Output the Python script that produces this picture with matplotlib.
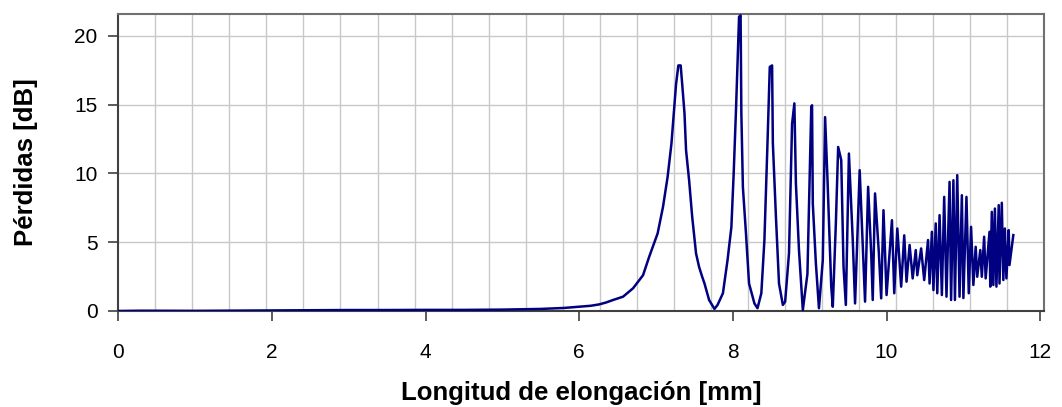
import numpy as np
import matplotlib
matplotlib.use("Agg")
import matplotlib.pyplot as plt
from matplotlib.ticker import FixedLocator

# elongation [mm] and losses [dB]
x_mm = [0.00, 0.30, 1.00, 1.70, 2.00, 2.50, 3.00, 3.50, 4.00, 4.50, 5.00, 5.50, 5.80,
        6.00, 6.15, 6.26, 6.35, 6.44, 6.57, 6.70, 6.83, 6.91, 7.02, 7.09, 7.15, 7.20, 7.23, 7.26,
        7.29, 7.32, 7.34, 7.37, 7.39, 7.43, 7.47, 7.52, 7.56, 7.60, 7.63, 7.69, 7.76,
        7.80, 7.87, 7.93, 7.98, 8.01, 8.04, 8.08, 8.10, 8.11, 8.13, 8.17, 8.21, 8.28,
        8.32, 8.37, 8.41, 8.45, 8.48, 8.51, 8.52, 8.56, 8.60, 8.65, 8.68, 8.73, 8.77,
        8.80, 8.82, 8.86, 8.91, 8.97, 9.02, 9.03, 9.04, 9.08, 9.12, 9.17, 9.20, 9.23,
        9.28, 9.30, 9.34, 9.37, 9.41, 9.44, 9.47, 9.51, 9.56, 9.59, 9.65, 9.69, 9.72,
        9.76, 9.80, 9.82, 9.85, 9.90, 9.93, 9.96, 10.00, 10.07, 10.10, 10.14, 10.19,
        10.23, 10.26, 10.30, 10.34, 10.38, 10.40, 10.45, 10.49, 10.54, 10.56, 10.59,
        10.61, 10.64, 10.66, 10.69, 10.72, 10.75, 10.78, 10.82, 10.84, 10.87, 10.89,
        10.92, 10.95, 10.98, 11.00, 11.04, 11.07, 11.10, 11.13, 11.16, 11.18, 11.22,
        11.24, 11.27, 11.29, 11.34, 11.35, 11.37, 11.39, 11.41, 11.43, 11.46, 11.47,
        11.50, 11.52, 11.54, 11.56, 11.59, 11.60, 11.65]
loss_db = [0.00, 0.02, 0.01, 0.03, 0.04, 0.06, 0.07, 0.07, 0.08, 0.08, 0.10, 0.15, 0.22,
           0.31, 0.38, 0.48, 0.62, 0.80, 1.04, 1.65, 2.60, 3.94, 5.64, 7.57, 9.75, 12.18, 14.36, 16.50,
           17.86, 17.86, 16.50, 14.36, 11.70, 9.50, 6.85, 4.19, 3.20, 2.49, 2.00, 0.80, 0.15,
           0.44, 1.29, 3.70, 6.10, 10.00, 14.60, 21.40, 21.50, 14.36, 9.00, 5.64, 2.00, 0.55,
           0.20, 1.29, 5.16, 12.20, 17.75, 17.86, 12.20, 6.85, 2.00, 0.44, 0.68, 4.19, 13.60,
           15.10, 9.27, 4.43, 0.07, 2.70, 14.85, 14.96, 7.80, 3.46, 0.20, 3.70, 14.10, 9.75,
           1.77, 0.31, 6.37, 11.93, 10.97, 3.20, 0.44, 11.45, 5.16, 0.55, 10.24, 4.67, 0.68,
           9.03, 4.19, 0.80, 8.55, 4.19, 0.92, 7.33, 1.16, 6.60, 1.29, 6.00, 1.77,
           5.50, 2.13, 4.80, 2.37, 4.43, 2.60, 4.55, 2.25, 5.16, 2.00, 5.76,
           1.52, 6.37, 1.29, 6.97, 1.16, 8.30, 1.04, 9.39, 0.80, 9.51, 0.80,
           9.88, 1.04, 8.42, 0.94, 8.30, 1.29, 6.12, 1.89, 4.67, 2.49, 4.43,
           2.49, 5.40, 2.37, 5.76, 1.77, 7.21, 1.89, 7.45, 1.77, 7.70, 2.00,
           7.87, 2.25, 6.00, 2.37, 5.88, 3.34, 5.52]

x_ticks = [0, 2, 4, 6, 8, 10, 12]
y_ticks = [0, 5, 10, 15, 20]
x_max = 12.05
y_max = 21.6

plt.rcParams['font.family'] = ['Liberation Sans', 'DejaVu Sans']

fig = plt.figure(figsize=(10.62, 4.07), dpi=100)
ax = fig.add_axes([0.1114, 0.2359, 0.9831 - 0.1114, 0.9656 - 0.2359])

ax.plot(x_mm, loss_db, color='#000080', lw=1.8, zorder=3)

ax.set_xlim(0, x_max)
ax.set_ylim(0, y_max)
ax.xaxis.set_major_locator(FixedLocator(x_ticks))
ax.xaxis.set_minor_locator(FixedLocator(np.arange(1, 25) * x_max / 25))
ax.yaxis.set_major_locator(FixedLocator(y_ticks))

ax.grid(which='minor', axis='x', color='#c8c8c8', lw=1.0)
ax.grid(which='major', axis='y', color='#c8c8c8', lw=1.0)
ax.set_axisbelow(True)

ax.tick_params(axis='x', which='major', direction='out', length=7, width=1.2,
               color='#404040', labelsize=15, pad=16)
ax.tick_params(axis='x', which='minor', length=0)
ax.tick_params(axis='y', which='major', direction='out', length=7, width=1.2,
               color='#404040', labelsize=15, pad=8)

for side in ['top', 'right']:
    ax.spines[side].set_color('#707070')
    ax.spines[side].set_linewidth(1.5)
for side in ['left', 'bottom']:
    ax.spines[side].set_color('#404040')
    ax.spines[side].set_linewidth(1.5)

ax.set_xlabel('Longitud de elongación [mm]', fontsize=18.5, fontweight='bold', labelpad=14)
ax.set_ylabel('Pérdidas [dB]', fontsize=18.5, fontweight='bold', labelpad=26)

fig.savefig('out.png', dpi=100)
